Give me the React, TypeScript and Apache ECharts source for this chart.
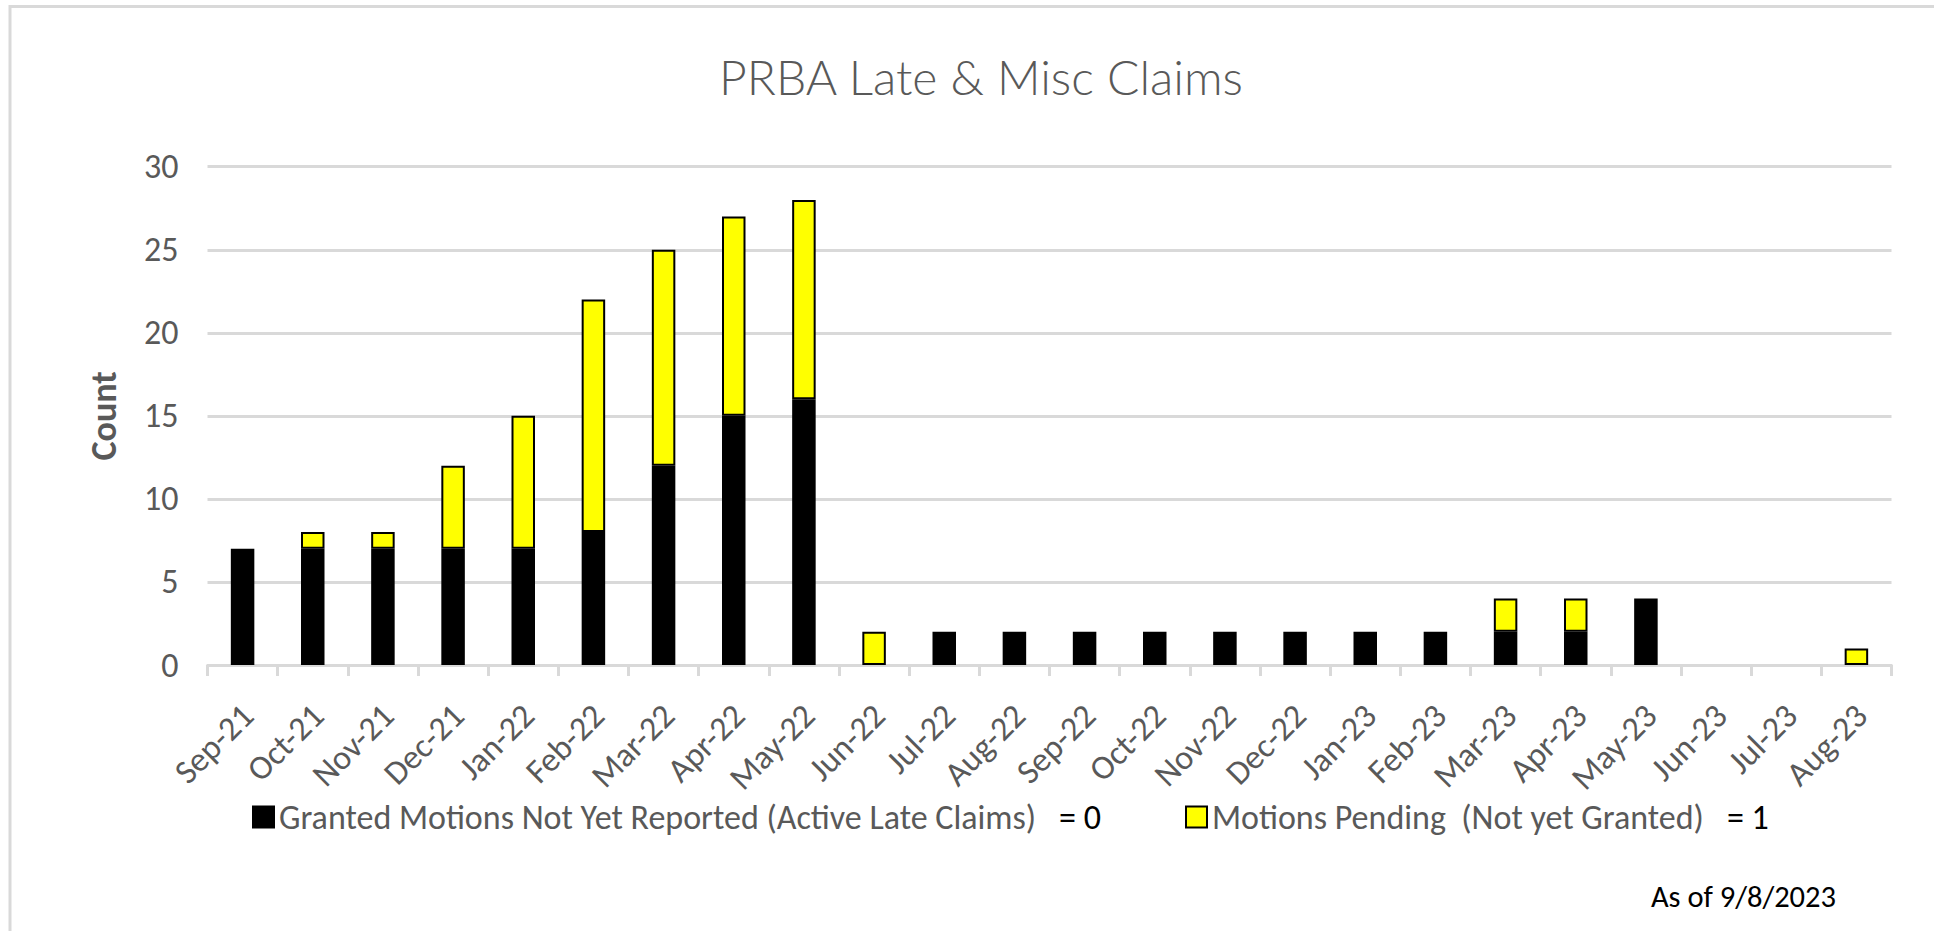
import React, { useEffect, useRef } from "react";
import * as echarts from "echarts";

const categories = [
  "Sep-21", "Oct-21", "Nov-21", "Dec-21", "Jan-22", "Feb-22", "Mar-22", "Apr-22",
  "May-22", "Jun-22", "Jul-22", "Aug-22", "Sep-22", "Oct-22", "Nov-22", "Dec-22",
  "Jan-23", "Feb-23", "Mar-23", "Apr-23", "May-23", "Jun-23", "Jul-23", "Aug-23",
];
const grantedValues = [7, 7, 7, 7, 7, 8, 12, 15, 16, 0, 2, 2, 2, 2, 2, 2, 2, 2, 2, 2, 4, 0, 0, 0];
const pendingValues = [0, 1, 1, 5, 8, 14, 13, 12, 12, 2, 0, 0, 0, 0, 0, 0, 0, 0, 2, 2, 0, 0, 0, 1];
const yMin = 0;
const yMax = 30;
const yInterval = 5;
const grantedName = "Granted Motions Not Yet Reported (Active Late Claims)";
const pendingName = "Motions Pending  (Not yet Granted)";
const grantedTotal = "= 0";
const pendingTotal = "= 1";
const titleText = "PRBA Late & Misc Claims";
const yAxisName = "Count";
const asOfText = "As of 9/8/2023";

const FONT = "Calibri, Carlito, Lato, sans-serif";
const TITLE_FONT = "'Calibri Light', 'Lato Light', Lato, sans-serif";
const GREY = "#595959";

export default function App() {
  const ref = useRef<HTMLDivElement>(null);

  useEffect(() => {
    if (!ref.current) return;
    const chart = echarts.init(ref.current, undefined, { renderer: "svg" });
    const toBar = (v: number) => (v === 0 ? "-" : v);
    const legendBase = {
      top: 800,
      icon: "rect",
      itemWidth: 21,
      itemHeight: 21,
      itemGap: 0,
      selectedMode: false,
      padding: 0,
    };
    const richFor = {
      n: { fontFamily: FONT, fontSize: 34, color: GREY, lineHeight: 40 },
      e: { fontFamily: FONT, fontSize: 34, color: "#000", lineHeight: 40, padding: [0, 0, 0, 23] },
    };
    chart.setOption({
      animation: false,
      backgroundColor: "#ffffff",
      title: {
        text: titleText,
        left: 976,
        top: 47,
        textAlign: "center",
        textStyle: { fontFamily: TITLE_FONT, fontSize: 48, fontWeight: 300, color: GREY },
      },
      grid: { left: 207.5, right: 42.5, top: 166.7, bottom: 266, containLabel: false },
      legend: [
        {
          ...legendBase,
          left: 252,
          data: [grantedName],
          formatter: (n: string) => `{n|${n}}{e|${grantedTotal}}`,
          textStyle: { rich: richFor },
        },
        {
          ...legendBase,
          left: 1185,
          data: [pendingName],
          formatter: (n: string) => `{n|${n}}{e|${pendingTotal}}`,
          textStyle: { rich: richFor },
        },
      ],
      xAxis: {
        type: "category",
        data: categories,
        axisLine: { show: true, lineStyle: { color: "#d9d9d9", width: 3 } },
        axisTick: { show: true, length: 11, lineStyle: { color: "#d9d9d9", width: 3 } },
        axisLabel: {
          rotate: 45,
          margin: 40,
          interval: 0,
          formatter: (v: string) => `{a|${v}}`,
          rich: {
            a: { fontFamily: FONT, fontSize: 34, color: GREY, padding: [14, 0, 0, 0] },
          },
        },
      },
      yAxis: {
        type: "value",
        min: yMin,
        max: yMax,
        interval: yInterval,
        name: yAxisName,
        nameLocation: "middle",
        nameGap: 86,
        nameTextStyle: { fontFamily: FONT, fontSize: 36, fontWeight: "bold", color: GREY },
        axisLine: { show: false },
        axisTick: { show: false },
        axisLabel: { margin: 29, fontFamily: FONT, fontSize: 34, color: GREY },
        splitLine: { lineStyle: { color: "#d9d9d9", width: 3 } },
      },
      series: [
        {
          name: grantedName,
          type: "bar",
          stack: "total",
          barWidth: 23.5,
          data: grantedValues.map(toBar),
          itemStyle: { color: "#000000", borderColor: "#000000", borderWidth: 2 },
        },
        {
          name: pendingName,
          type: "bar",
          stack: "total",
          barWidth: 23.5,
          data: pendingValues.map(toBar),
          itemStyle: { color: "#ffff00", borderColor: "#000000", borderWidth: 2 },
        },
      ],
      graphic: [
        {
          type: "rect",
          silent: true,
          z: -10,
          shape: { x: 10, y: 6.5, width: 2000, height: 1000 },
          style: { fill: "none", stroke: "#d9d9d9", lineWidth: 3 },
        },
        {
          type: "text",
          x: 1836,
          y: 896,
          style: {
            text: asOfText,
            fontFamily: FONT,
            fontSize: 30.5,
            fill: "#000000",
            align: "right",
            verticalAlign: "middle",
          },
        },
      ],
    });
    return () => chart.dispose();
  }, []);

  return (
    <div
      ref={ref}
      style={{ position: "absolute", left: 0, top: 0, width: 1934, height: 931, background: "#fff" }}
    />
  );
}
